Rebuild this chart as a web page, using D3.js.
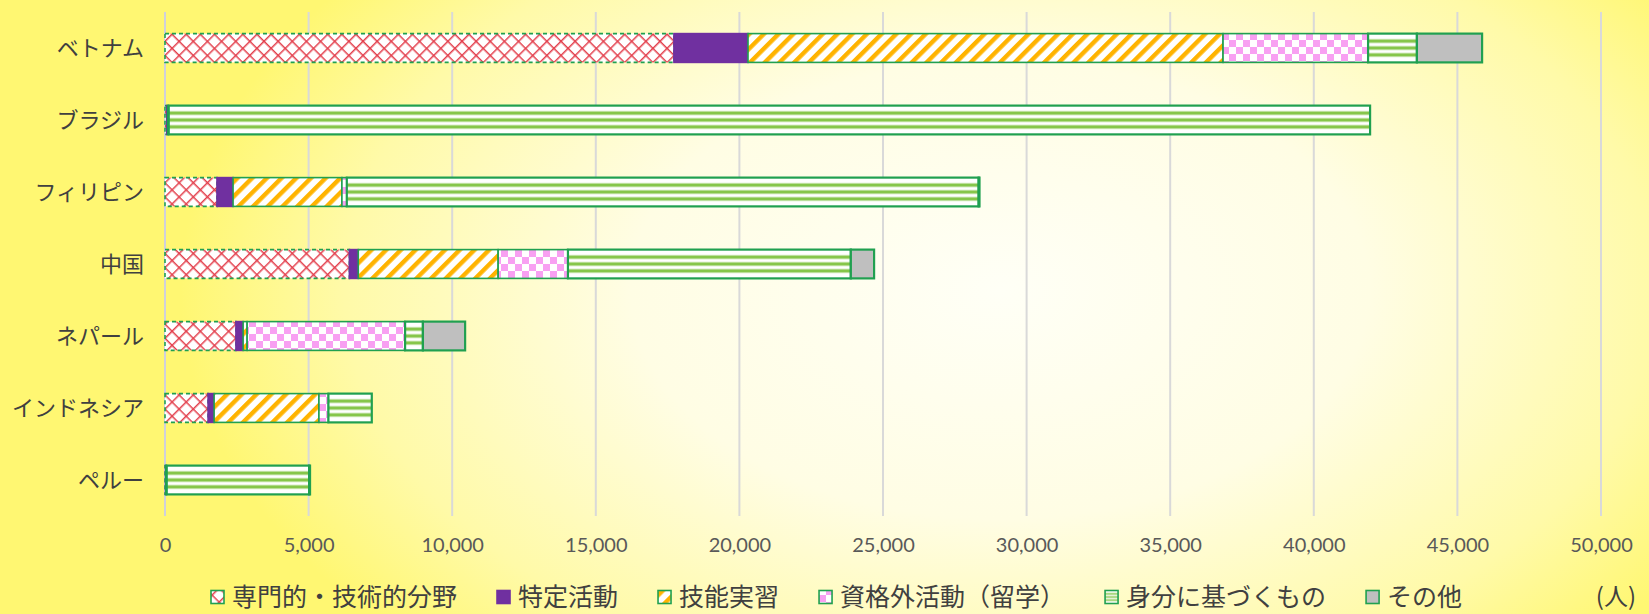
<!DOCTYPE html>
<html>
<head>
<meta charset="utf-8">
<script src="https://cdn.jsdelivr.net/npm/d3@7"></script>
<style>
  body { margin: 0; padding: 0; overflow: hidden; }
  .tick text { font-family: Lato, "DejaVu Sans", sans-serif; font-size: 20px; fill: #595959; }
  .cat-label { font-family: "Noto Sans CJK JP", sans-serif; font-size: 22px; fill: #404040; }
  .legend-text { font-family: "Noto Sans CJK JP", sans-serif; font-size: 25px; fill: #404040; }
  .unit-text { font-family: "Noto Sans CJK JP", sans-serif; font-size: 24px; fill: #404040; }
</style>
</head>
<body>
<div id="chart"></div>
<script>
// categories (top to bottom)
const categories = ["ベトナム", "ブラジル", "フィリピン", "中国", "ネパール", "インドネシア", "ペルー"];
const seriesNames = ["専門的・技術的分野", "特定活動", "技能実習", "資格外活動（留学）", "身分に基づくもの", "その他"];

// values per series (persons), same order as categories
const senmon     = [17720,    60,  1810, 6420, 2470, 1500,   20];
const tokutei    = [ 2580,    30,   560,  310,  250,  210,   10];
const ginou      = [16540,    20,  3790, 4870,  140, 3650,   20];
const shikakugai = [ 5050,    20,   170, 2430, 5500,  330,   10];
const mibun      = [ 1700, 41830, 22000, 9850,  620, 1510, 4960];
const sonota     = [ 2270,     0,    30,  810, 1470,    0,   30];

const xTicks = [0, 5000, 10000, 15000, 20000, 25000, 30000, 35000, 40000, 45000, 50000];
const unitLabel = "(人)";

const W = 1649, H = 614;
const margin = { top: 12, right: 48, bottom: 98, left: 165 };
const width = W - margin.left - margin.right;
const height = H - margin.top - margin.bottom;

const seriesValues = [senmon, tokutei, ginou, shikakugai, mibun, sonota];
const keys = seriesNames;
const table = categories.map(function(c, i) {
  const row = { cat: c };
  keys.forEach(function(k, j) { row[k] = seriesValues[j][i]; });
  return row;
});

const svg = d3.select("#chart").append("svg")
  .attr("width", W).attr("height", H);

const defs = svg.append("defs");

// background gradient
const bg = defs.append("radialGradient")
  .attr("id", "bg")
  .attr("gradientUnits", "userSpaceOnUse")
  .attr("cx", 1000).attr("cy", 290).attr("r", 820)
  .attr("gradientTransform", "translate(1000,290) scale(1,0.62) translate(-1000,-290)");
bg.append("stop").attr("offset", 0).attr("stop-color", "#fffff6");
bg.append("stop").attr("offset", 0.45).attr("stop-color", "#fffde4");
bg.append("stop").attr("offset", 0.8).attr("stop-color", "#fffaa8");
bg.append("stop").attr("offset", 1).attr("stop-color", "#fff772");

svg.append("rect").attr("width", W).attr("height", H).attr("fill", "url(#bg)");

// patterns
const cross = defs.append("pattern").attr("id", "p0")
  .attr("patternUnits", "userSpaceOnUse").attr("width", 10).attr("height", 10)
  .attr("patternTransform", "rotate(45)");
cross.append("rect").attr("width", 10).attr("height", 10).attr("fill", "#ffffff");
cross.append("line").attr("x1", 0).attr("y1", 0.75).attr("x2", 10).attr("y2", 0.75)
  .attr("stroke", "#e3404d").attr("stroke-width", 1.5);
cross.append("line").attr("x1", 0.75).attr("y1", 0).attr("x2", 0.75).attr("y2", 10)
  .attr("stroke", "#e3404d").attr("stroke-width", 1.5);

const stripe = defs.append("pattern").attr("id", "p2")
  .attr("patternUnits", "userSpaceOnUse").attr("width", 10.4).attr("height", 10)
  .attr("patternTransform", "rotate(45)");
stripe.append("rect").attr("width", 10.4).attr("height", 10).attr("fill", "#ffffff");
stripe.append("rect").attr("width", 4.4).attr("height", 10).attr("fill", "#ffb300");

const checker = defs.append("pattern").attr("id", "p3")
  .attr("patternUnits", "userSpaceOnUse").attr("width", 14).attr("height", 14);
checker.append("rect").attr("width", 14).attr("height", 14).attr("fill", "#ffffff");
checker.append("rect").attr("width", 7).attr("height", 7).attr("fill", "#f8a0f2");
checker.append("rect").attr("x", 7).attr("y", 7).attr("width", 7).attr("height", 7).attr("fill", "#f8a0f2");

const hlines = defs.append("pattern").attr("id", "p4")
  .attr("patternUnits", "objectBoundingBox").attr("patternContentUnits", "objectBoundingBox")
  .attr("width", 1).attr("height", 1);
hlines.append("rect").attr("width", 1).attr("height", 1).attr("fill", "#ffffff");
[0.26, 0.5, 0.74].forEach(function(f) {
  hlines.append("rect").attr("x", 0).attr("y", f - 0.06).attr("width", 1).attr("height", 0.12)
    .attr("fill", "#86c64a");
});

const fills = ["url(#p0)", "#7030a0", "url(#p2)", "url(#p3)", "url(#p4)", "#bfbfbf"];
const strokeCol = "#20a050";

// scales
const x = d3.scaleLinear().domain([0, 50000]).range([0, width]);
const y = d3.scaleBand().domain(categories).range([0, height])
  .paddingInner(0.6).paddingOuter(0.3);

const g = svg.append("g").attr("transform", "translate(" + margin.left + "," + margin.top + ")");

// gridlines
g.append("g").attr("class", "grid")
  .selectAll("line").data(xTicks).enter().append("line")
  .attr("x1", d => x(d)).attr("x2", d => x(d))
  .attr("y1", 0).attr("y2", height)
  .attr("stroke", d => d === 0 ? "#cfd0dc" : "#d9d9d9")
  .attr("stroke-width", 2);

// x axis
const xAxis = d3.axisBottom(x).tickValues(xTicks).tickFormat(d3.format(",")).tickSize(0).tickPadding(22);
g.append("g").attr("transform", "translate(0," + height + ")")
  .call(xAxis)
  .call(sel => sel.select(".domain").remove());

// category labels
g.selectAll(".cat-label").data(categories).enter().append("text")
  .attr("class", "cat-label")
  .attr("x", -21)
  .attr("y", d => y(d) + y.bandwidth() / 2)
  .attr("dy", "0.35em")
  .attr("text-anchor", "end")
  .text(d => d);

// stacked bars
const stack = d3.stack().keys(keys);
const layers = stack(table);

const layerG = g.selectAll(".layer").data(layers).enter().append("g")
  .attr("class", "layer");

layerG.each(function(layer, li) {
  d3.select(this).selectAll("rect")
    .data(layer.filter(d => d[1] - d[0] > 0))
    .enter().append("rect")
    .attr("x", d => x(d[0]))
    .attr("y", d => y(d.data.cat))
    .attr("width", d => x(d[1]) - x(d[0]))
    .attr("height", y.bandwidth())
    .attr("fill", fills[li])
    .attr("stroke", li === 1 ? "#7030a0" : strokeCol)
    .attr("stroke-width", li >= 4 ? 2.2 : 1.6)
    .attr("stroke-dasharray", li === 0 ? "4,3" : null);
});

// legend
const legend = svg.append("g").attr("class", "legend");
let lx = 211;
const ly = 597;
seriesNames.forEach(function(name, i) {
  const item = legend.append("g");
  item.append("rect")
    .attr("x", lx).attr("y", ly - 6.5).attr("width", 13).attr("height", 13)
    .attr("fill", fills[i])
    .attr("stroke", i === 1 ? "#7030a0" : strokeCol)
    .attr("stroke-width", 1.6);
  const t = item.append("text")
    .attr("class", "legend-text")
    .attr("x", lx + 21).attr("y", ly)
    .attr("dy", "0.35em")
    .text(name);
  lx = lx + 21 + t.node().getComputedTextLength() + 40;
});

svg.append("text")
  .attr("class", "unit-text")
  .attr("x", 1636).attr("y", 597)
  .attr("dy", "0.35em")
  .attr("text-anchor", "end")
  .text(unitLabel);
</script>
</body>
</html>
